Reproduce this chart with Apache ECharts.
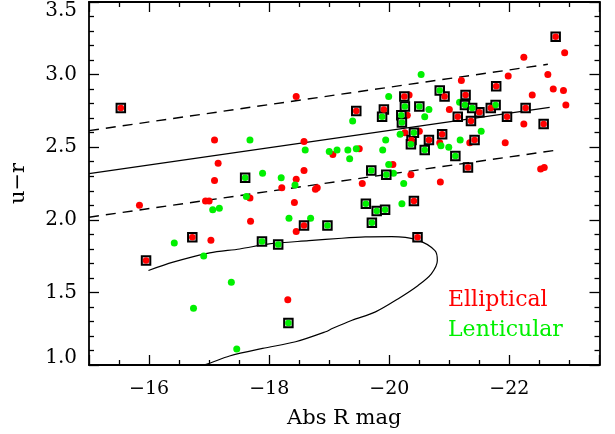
<!DOCTYPE html>
<html>
<head>
<meta charset="utf-8">
<script src="https://cdn.jsdelivr.net/npm/echarts@6/dist/echarts.min.js"></script>
<style>
html,body{margin:0;padding:0;background:#fff;}
#chart{width:615px;height:434px;}
</style>
</head>
<body>
<div id="chart"></div>
<script>
// Elliptical (red) galaxies
const ellX = [-18.45,-17.09,-18.58,-17.15,-19.06,-17.09,-18.45,-18.58,-18.21,-18.77,-18.80,-17.68,-16.94,-17.00,-15.84,-18.42,-17.69,-18.45,-17.03,-18.31,-19.50,-19.55,-22.24,-22.92,-21.20,-21.98,-22.64,-22.73,-22.90,-22.38,-22.94,-20.33,-21.00,-20.30,-22.24,-20.26,-20.50,-20.84,-21.34,-21.93,-20.06,-20.36,-20.85,-22.52,-22.58];
const ellY = [2.85,2.55,2.54,2.39,2.45,2.27,2.28,2.34,2.22,2.21,2.22,2.15,2.13,2.13,2.10,2.12,1.99,1.92,1.86,1.45,2.49,2.25,3.12,3.15,2.96,2.99,3.00,2.90,2.89,2.86,2.79,2.86,2.76,2.72,2.66,2.60,2.61,2.53,2.53,2.53,2.38,2.31,2.26,2.35,2.36];
// Lenticular (green) galaxies
const lenX = [-17.68,-18.60,-19.00,-19.13,-17.89,-18.20,-18.43,-17.62,-17.06,-17.17,-18.33,-18.69,-16.42,-16.91,-17.37,-16.74,-17.46,-19.31,-19.45,-19.34,-19.89,-19.99,-19.39,-19.99,-19.94,-20.53,-20.66,-21.17,-20.59,-21.53,-20.18,-21.18,-20.86,-20.99,-20.07,-20.24,-20.21];
const lenY = [2.55,2.48,2.47,2.48,2.32,2.29,2.24,2.16,2.07,2.08,2.01,2.01,1.84,1.75,1.57,1.39,1.11,2.48,2.49,2.42,2.48,2.38,2.68,2.85,2.55,3.00,2.76,2.81,2.71,2.61,2.59,2.55,2.51,2.50,2.32,2.25,2.11];
// Boxed ellipticals
const ellBoxX = [-15.53,-15.95,-16.72,-18.58,-19.45,-19.91,-22.77,-21.78,-20.92,-20.25,-21.27,-21.50,-21.69,-22.27,-21.14,-21.36,-21.96,-22.57,-20.66,-20.88,-20.37,-21.42,-21.31,-20.41,-20.47];
const ellBoxY = [2.77,1.72,1.88,1.96,2.75,2.76,3.26,2.92,2.85,2.85,2.86,2.74,2.77,2.77,2.71,2.68,2.71,2.66,2.55,2.59,2.55,2.55,2.36,2.13,1.88];
// Boxed lenticulars
const lenBoxX = [-17.60,-17.88,-18.15,-18.97,-19.88,-19.70,-19.95,-19.61,-19.79,-19.93,-19.71,-20.84,-20.26,-20.50,-20.20,-20.21,-20.41,-20.36,-20.59,-21.10,-21.77,-21.26,-21.38,-18.32];
const lenBoxY = [2.29,1.85,1.83,1.96,2.71,2.34,2.31,2.11,2.06,2.07,1.98,2.89,2.78,2.78,2.72,2.67,2.60,2.52,2.48,2.44,2.79,2.79,2.77,1.29];
// Red sequence fit and +/- 0.3 lines
const fitX = [-15, -22.67];
const fitY = [2.318, 2.774];
const upperX = [-15, -22.64];
const upperY = [2.614, 3.071];
const lowerX = [-15, -22.79];
const lowerY = [2.018, 2.480];
// Contour curve
const curveX = [-15.99,-16.40,-17.01,-17.51,-18.00,-18.66,-19.21,-19.60,-20.04,-20.45,-20.76,-20.80,-20.70,-20.48,-20.15,-19.77,-19.38,-19.05,-18.94,-18.44,-17.89,-17.34,-17.01,-16.83];
const curveY = [1.651,1.708,1.772,1.799,1.834,1.856,1.873,1.882,1.884,1.863,1.788,1.719,1.628,1.548,1.457,1.366,1.308,1.251,1.229,1.160,1.114,1.062,1.012,0.990];

const xLabel = 'Abs R mag';
const yLabel = 'u\u2212r';
const legendE = 'Elliptical';
const legendL = 'Lenticular';

const pair = (xs, ys) => xs.map((x, i) => [x, ys[i]]);
const FONT = 'DejaVu Serif';
const GREEN = '#00f000';
const RED = '#ff0000';

const chart = echarts.init(document.getElementById('chart'), null, {renderer: 'canvas'});

function xAxisDef(pos, labels) {
  return {
    type: 'value', position: pos, min: -23.5, max: -15, inverse: true, splitNumber: 5,
    axisLine: {show: true, onZero: false, lineStyle: {color: '#000', width: 1.8}},
    axisTick: {show: true, inside: true, length: 10, lineStyle: {color: '#000', width: 1.3}},
    minorTick: {show: true, splitNumber: 4, length: 5, lineStyle: {color: '#000', width: 1.3}},
    splitLine: {show: false}, minorSplitLine: {show: false},
    axisLabel: {show: labels, showMinLabel: false, showMaxLabel: false, margin: 15,
      fontFamily: FONT, fontSize: 19, color: '#000',
      formatter: v => '\u2212' + Math.abs(v)},
    name: labels ? xLabel : '', nameLocation: 'middle', nameGap: 43,
    nameTextStyle: {fontFamily: FONT, fontSize: 21, color: '#000'}
  };
}
function yAxisDef(pos, labels) {
  return {
    type: 'value', position: pos, min: 1.0, max: 3.5, interval: 0.5,
    axisLine: {show: true, onZero: false, lineStyle: {color: '#000', width: 1.8}},
    axisTick: {show: true, inside: true, length: 10, lineStyle: {color: '#000', width: 1.3}},
    minorTick: {show: true, splitNumber: 5, length: 5, lineStyle: {color: '#000', width: 1.3}},
    splitLine: {show: false}, minorSplitLine: {show: false},
    axisLabel: {show: labels, margin: 12, fontFamily: FONT, fontSize: 20, color: '#000',
      formatter: v => {
        const t = v.toFixed(1);
        if (v <= 1.0) return '{lo|' + t + '}';
        if (v >= 3.5) return '{hi|' + t + '}';
        return t;
      },
      rich: {
        lo: {fontFamily: FONT, fontSize: 20, color: '#000', padding: [0, 0, 14, 0]},
        hi: {fontFamily: FONT, fontSize: 20, color: '#000', padding: [18, 0, 0, 0]}
      }},
    name: labels ? yLabel : '', nameLocation: 'middle', nameGap: 60, nameRotate: 90,
    nameTextStyle: {fontFamily: FONT, fontSize: 21, color: '#000'}
  };
}

const option = {
  animation: false,
  backgroundColor: '#fff',
  grid: {left: 85, right: 15.5, top: 2, bottom: 67.3, containLabel: false},
  xAxis: [xAxisDef('bottom', true), xAxisDef('top', false)],
  yAxis: [yAxisDef('left', true), yAxisDef('right', false)],
  graphic: [
    {type: 'text', left: 448, top: 289, style: {text: legendE, fill: RED, font: '22px "' + FONT + '"'}},
    {type: 'text', left: 448, top: 319, style: {text: legendL, fill: GREEN, font: '22px "' + FONT + '"'}}
  ],
  series: [
    {type: 'line', data: pair(fitX, fitY), symbol: 'none', lineStyle: {color: '#000', width: 1.2}, z: 2},
    {type: 'line', data: pair(upperX, upperY), symbol: 'none', lineStyle: {color: '#000', width: 1.4, type: [10, 7]}, z: 2},
    {type: 'line', data: pair(lowerX, lowerY), symbol: 'none', lineStyle: {color: '#000', width: 1.4, type: [10, 7]}, z: 2},
    {type: 'line', data: pair(curveX, curveY), symbol: 'none', smooth: 0.3, lineStyle: {color: '#000', width: 1.2}, clip: true, z: 2},
    {type: 'scatter', data: pair(ellX, ellY), symbol: 'circle', symbolSize: 7, itemStyle: {color: RED, opacity: 1}, z: 3},
    {type: 'scatter', data: pair(lenX, lenY), symbol: 'circle', symbolSize: 7, itemStyle: {color: GREEN, opacity: 1}, z: 3},
    {type: 'scatter', data: pair(ellBoxX, ellBoxY), symbol: 'rect', symbolSize: 8.5, itemStyle: {color: '#e4e4e4', borderColor: '#000', borderWidth: 2, opacity: 1}, z: 4},
    {type: 'scatter', data: pair(ellBoxX, ellBoxY), symbol: 'circle', symbolSize: 6.5, itemStyle: {color: RED, opacity: 1}, z: 5},
    {type: 'scatter', data: pair(lenBoxX, lenBoxY), symbol: 'rect', symbolSize: 8.5, itemStyle: {color: '#e4e4e4', borderColor: '#000', borderWidth: 2, opacity: 1}, z: 4},
    {type: 'scatter', data: pair(lenBoxX, lenBoxY), symbol: 'circle', symbolSize: 6.5, itemStyle: {color: GREEN, opacity: 1}, z: 5}
  ]
};
chart.setOption(option);
</script>
</body>
</html>
